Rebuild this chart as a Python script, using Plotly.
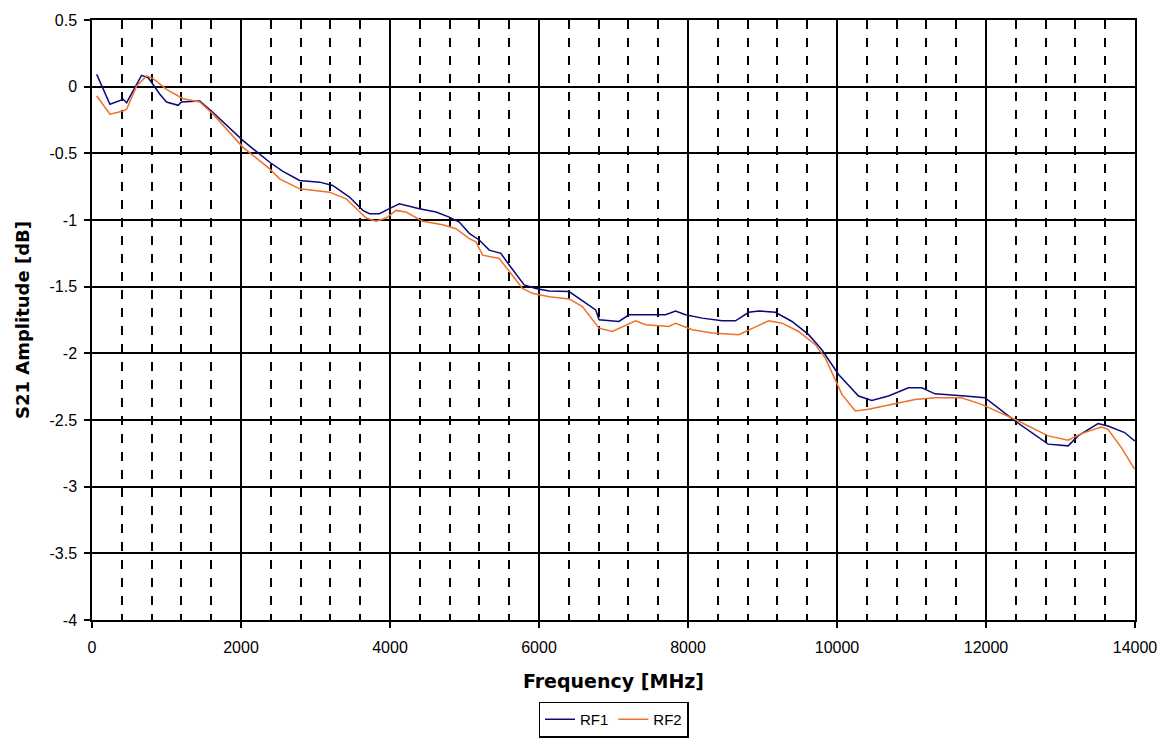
import plotly.graph_objects as go

# RF1 (blue) trace
rf1_freq = [63, 241, 420, 465, 665, 755, 911, 1000, 1157, 1200, 1447, 1625, 2027, 2385, 2563,
            2787, 3055, 3231, 3456, 3635, 3724, 3858, 3992, 4126, 4394, 4618, 4796, 4930, 5064,
            5198, 5332, 5488, 5600, 5801, 5957, 6136, 6404, 6538, 6761, 6806, 7073, 7207, 7610,
            7699, 7833, 7967, 8190, 8458, 8637, 8815, 8949, 9173, 9396, 9619, 9797, 10021, 10289,
            10467, 10691, 10959, 11137, 11316, 11718, 11985, 12388, 12834, 13102, 13236, 13504,
            13638, 13861, 13995]
rf1_db = [0.092, -0.132, -0.095, -0.12, 0.085, 0.067, -0.057, -0.115, -0.14, -0.115, -0.107, -0.194,
          -0.405, -0.567, -0.635, -0.704, -0.716, -0.741, -0.828, -0.928, -0.953, -0.953, -0.915,
          -0.878, -0.915, -0.94, -0.978, -1.015, -1.10, -1.15, -1.226, -1.25, -1.338, -1.487,
          -1.513, -1.532, -1.537, -1.587, -1.674, -1.748, -1.761, -1.711, -1.711, -1.711, -1.682,
          -1.711, -1.736, -1.756, -1.756, -1.692, -1.682, -1.692, -1.761, -1.86, -1.973, -2.159,
          -2.32, -2.353, -2.32, -2.259, -2.259, -2.304, -2.32, -2.333, -2.507, -2.681, -2.694,
          -2.619, -2.527, -2.545, -2.594, -2.657]

# RF2 (orange) trace
rf2_freq = [63, 241, 420, 465, 599, 733, 822, 1000, 1224, 1447, 1625, 2027, 2385, 2519, 2787,
            3188, 3412, 3680, 3813, 3948, 4082, 4216, 4439, 4707, 4886, 5064, 5154, 5243, 5466,
            5600, 5778, 5912, 6136, 6404, 6582, 6806, 6984, 7297, 7431, 7743, 7833, 8056, 8324,
            8681, 8860, 9083, 9262, 9485, 9708, 9842, 10066, 10245, 10423, 10735, 11048, 11316,
            11673, 11941, 12388, 12834, 13102, 13280, 13548, 13638, 13817, 13995]
rf2_db = [-0.07, -0.206, -0.182, -0.169, 0.005, 0.08, 0.06, -0.02, -0.09, -0.115, -0.206, -0.455,
          -0.617, -0.691, -0.766, -0.791, -0.841, -0.985, -1.01, -0.985, -0.928, -0.94, -1.01,
          -1.035, -1.065, -1.14, -1.164, -1.264, -1.289, -1.388, -1.513, -1.55, -1.575, -1.592,
          -1.649, -1.811, -1.836, -1.756, -1.786, -1.799, -1.774, -1.823, -1.848, -1.86, -1.811,
          -1.756, -1.774, -1.836, -1.935, -2.035, -2.308, -2.433, -2.42, -2.383, -2.346, -2.333,
          -2.333, -2.383, -2.495, -2.619, -2.652, -2.602, -2.552, -2.57, -2.707, -2.868]

x_ticks = [0, 2000, 4000, 6000, 8000, 10000, 12000, 14000]
y_ticks = [0.5, 0, -0.5, -1, -1.5, -2, -2.5, -3, -3.5, -4]

fig = go.Figure()
fig.add_trace(go.Scatter(x=rf1_freq, y=rf1_db, mode="lines", name="RF1",
                         line=dict(color="#0A0A78", width=1.5)))
fig.add_trace(go.Scatter(x=rf2_freq, y=rf2_db, mode="lines", name="RF2",
                         line=dict(color="#F07028", width=1.5)))

tick_font = dict(family="Liberation Sans, Arial, sans-serif", size=16, color="black")

fig.update_layout(
    width=1169, height=740,
    margin=dict(l=92, r=32, t=17, b=120),
    plot_bgcolor="white", paper_bgcolor="white",
    showlegend=True,
    legend=dict(orientation="h", x=0.5, xanchor="center",
                yref="container", y=0.052, yanchor="top",
                bordercolor="black", borderwidth=1.5,
                font=dict(family="Liberation Sans, Arial, sans-serif", size=15, color="black"),
                itemwidth=30, tracegroupgap=0),
    xaxis=dict(
        range=[0, 14000], tickvals=x_ticks, ticktext=[str(v) for v in x_ticks],
        showgrid=True, gridcolor="black", gridwidth=1.5,
        ticks="outside", ticklen=6, tickcolor="black", tickwidth=1.5,
        ticklabelstandoff=6,
        showline=True, linecolor="black", linewidth=1.5, mirror=True,
        zeroline=False, tickfont=tick_font,
        minor=dict(dtick=400, tick0=0, showgrid=True, gridcolor="black", gridwidth=1.5,
                   griddash="dash", ticks=""),
        title=dict(text="<b>Frequency [MHz]</b>",
                   font=dict(family="DejaVu Sans, Verdana, sans-serif", size=19, color="black"),
                   standoff=20),
    ),
    yaxis=dict(
        range=[-4, 0.5], tickvals=y_ticks, ticktext=[str(v) for v in y_ticks],
        showgrid=True, gridcolor="black", gridwidth=2,
        ticks="outside", ticklen=6, tickcolor="black", tickwidth=1.5,
        ticklabelstandoff=4,
        showline=True, linecolor="black", linewidth=1.5, mirror=True,
        zeroline=False, tickfont=tick_font,
        title=dict(text="<b>S21 Amplitude [dB]</b>",
                   font=dict(family="DejaVu Sans, Verdana, sans-serif", size=18, color="black"),
                   standoff=15),
    ),
)

fig.write_html("out.html")
